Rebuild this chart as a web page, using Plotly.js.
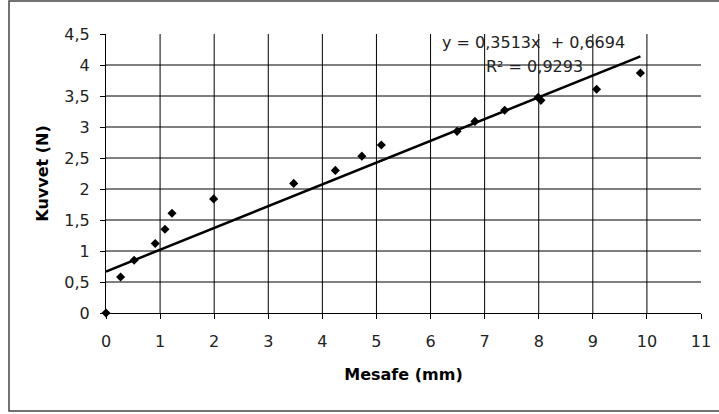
<!DOCTYPE html>
<html>
<head>
<meta charset="utf-8">
<script src="https://cdn.plot.ly/plotly-3.0.1.min.js"></script>
<style>
  html, body { margin: 0; padding: 0; background: #ffffff; }
  #chart { width: 719px; height: 414px; }
</style>
</head>
<body>
<div id="chart"></div>
<script>
// Data
var mesafe = [0, 0.27, 0.52, 0.91, 1.09, 1.22, 1.99, 3.47, 4.24, 4.73, 5.09, 6.49, 6.82, 7.37, 7.99, 8.04, 9.07, 9.88];
var kuvvet = [0, 0.58, 0.85, 1.12, 1.35, 1.61, 1.84, 2.09, 2.30, 2.53, 2.71, 2.93, 3.09, 3.27, 3.48, 3.43, 3.61, 3.87];

// Trendline coefficients as printed on the chart
var slope = 0.3513;
var intercept = 0.6694;

// Gridline positions (no gridline at the top 4,5 or the right 11 in the reference)
var xGrid = [1, 2, 3, 4, 5, 6, 7, 8, 9, 10];
var yGrid = [0.5, 1, 1.5, 2, 2.5, 3, 3.5, 4];

var xTitle = 'Mesafe (mm)';
var yTitle = 'Kuvvet (N)';
var eqText = 'y = 0,3513x  + 0,6694';
var r2Text = 'R² = 0,9293';

var xMax = Math.max.apply(null, mesafe);
var trendX = [0, xMax];
var trendY = trendX.map(function (x) { return slope * x + intercept; });

var font = '"DejaVu Sans", Verdana, sans-serif';

var traces = [
  {
    x: trendX, y: trendY, type: 'scatter', mode: 'lines',
    line: { color: '#000000', width: 2.5 },
    hoverinfo: 'skip', showlegend: false
  },
  {
    x: mesafe, y: kuvvet, type: 'scatter', mode: 'markers',
    marker: { symbol: 'diamond', size: 7, color: '#000000' },
    cliponaxis: false, showlegend: false
  }
];

var axisCommon = {
  showgrid: false,
  showline: true, linecolor: '#000000', linewidth: 1,
  ticks: 'outside', ticklen: 5, tickcolor: '#000000', tickwidth: 1,
  zeroline: false,
  tickfont: { family: font, size: 16, color: '#222222' }
};

var gridShapes = [];
xGrid.forEach(function (v) {
  gridShapes.push({ type: 'line', xref: 'x', yref: 'paper', x0: v, x1: v, y0: 0, y1: 1,
    line: { color: '#000000', width: 1 }, layer: 'below' });
});
yGrid.forEach(function (v) {
  gridShapes.push({ type: 'line', xref: 'paper', yref: 'y', x0: 0, x1: 1, y0: v, y1: v,
    line: { color: '#000000', width: 1 }, layer: 'below' });
});

var layout = {
  width: 719, height: 414,
  margin: { l: 106, r: 18, t: 34, b: 101 },
  paper_bgcolor: '#ffffff', plot_bgcolor: '#ffffff',
  separators: ', ',
  showlegend: false,
  font: { family: font, color: '#000000' },
  xaxis: Object.assign({}, axisCommon, {
    range: [0, 11], tick0: 0, dtick: 1, ticklabelstandoff: 9,
    title: { text: '<b>' + xTitle + '</b>', font: { family: font, size: 16, color: '#000000' }, standoff: 18 }
  }),
  yaxis: Object.assign({}, axisCommon, {
    range: [0, 4.5], tick0: 0, dtick: 0.5, ticklabelstandoff: 7,
    title: { text: '<b>' + yTitle + '</b>', font: { family: font, size: 16, color: '#000000' }, standoff: 11 }
  }),
  annotations: [
    { xref: 'paper', yref: 'paper', x: 0.719, y: 0.971, xanchor: 'center', yanchor: 'middle',
      text: eqText, showarrow: false, font: { family: font, size: 16, color: '#222222' } },
    { xref: 'paper', yref: 'paper', x: 0.721, y: 0.882, xanchor: 'center', yanchor: 'middle',
      text: r2Text, showarrow: false, font: { family: font, size: 16, color: '#222222' } }
  ],
  shapes: gridShapes.concat([
    { type: 'rect', xref: 'paper', yref: 'paper', x0: -0.163, x1: 1.06, y0: -0.351, y1: 1.118,
      line: { color: '#444444', width: 1.5 }, fillcolor: 'rgba(0,0,0,0)', layer: 'below' }
  ])
};

Plotly.newPlot('chart', traces, layout, { displayModeBar: false, staticPlot: true });
</script>
</body>
</html>
